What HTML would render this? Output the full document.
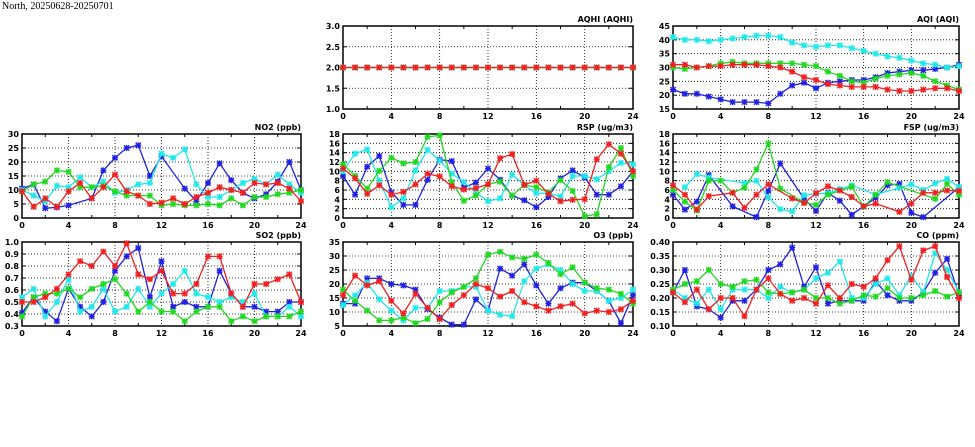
<!DOCTYPE html>
<html><head><meta charset="utf-8"><style>
html,body{margin:0;padding:0;background:#fff;width:975px;height:447px;overflow:hidden}
svg{display:block}
text{font-family:"DejaVu Sans","Liberation Sans",sans-serif;font-weight:bold;font-size:8px;fill:#000}
</style></head><body>
<svg id="chart" width="975" height="447">
<text x="2" y="9" style="font-family:'Liberation Serif',serif;font-weight:normal;font-size:10px">North, 20250628-20250701</text>
</svg>
<script>
const hours=[0,1,2,3,4,5,6,7,8,9,10,11,12,13,14,15,16,17,18,19,20,21,22,23,24];
const xTicks=[0,4,8,12,16,20,24];
const N=null;
// AQHI
const aqhiBlue=[2,2,2,2,2,2,2,2,2,2,2,2,2,2,2,2,2,2,2,2,2,2,2,2,2];
const aqhiCyan=[2,2,2,2,2,2,2,2,2,2,2,2,2,2,2,2,2,2,2,2,2,2,2,2,2];
const aqhiGreen=[2,2,2,2,2,2,2,2,2,2,2,2,2,2,2,2,2,2,2,2,2,2,2,2,2];
const aqhiRed=[2,2,2,2,2,2,2,2,2,2,2,2,2,2,2,2,2,2,2,2,2,2,2,2,2];
const aqhiTicks=["1.0","1.5","2.0","2.5","3.0"];
// AQI
const aqiBlue=[22,20.5,20.5,19.5,18.5,17.5,17.5,17.5,17,20.5,23.5,24.5,22.5,24.5,25,25.5,25.5,26.5,28,28.5,29,29,29.5,30,31];
const aqiCyan=[41,40,40,39.5,40,40.5,41,41.5,41.5,41,39,38,37.5,38,38,37,36,35,34,33.5,32.5,31.5,31,30,30.5];
const aqiGreen=[30,29.5,30,30.5,31.5,32,31.5,31.5,31.5,31.5,31.5,31,30.5,28.5,27,25,24.5,26,27,27.5,28,27,25,23.5,22];
const aqiRed=[31,31,30,30.5,30.5,31,31,31,30.5,30,28.5,26.5,25.5,24,23.5,23,23,23,22,21.5,21.5,22,22.5,22.5,21.5];
const aqiTicks=["15","20","25","30","35","40","45"];
// NO2
const no2Blue=[10.5,12,3.5,3.8,4.5,N,7,17,21.5,25,26,15,22,N,10.5,6,12.5,19.5,13.5,9,7,8.5,13,20,10];
const no2Cyan=[10,8,6,11.5,11,14.5,11,13,9,10,12,12.5,23,21.5,24.5,12,7.5,7.5,10,12.5,14,12,15.5,12,9];
const no2Green=[9.5,12,13,17,16.5,11,11,11.5,9.5,8,8,8,4.5,5,4.5,4.5,5,4.5,7,4.5,7.5,7.5,8.5,9,10];
const no2Red=[9.5,4,7,4,9.5,12.5,7,11,15.5,9.5,8,5,5.5,7,5,7.5,9,11,10,9,12.5,12,12.5,10.5,6];
const no2Ticks=["0","5","10","15","20","25","30"];
// RSP
const rspBlue=[9,5,11,13.3,5.5,2.8,2.8,8.2,12.5,12.2,6.5,7.6,10.6,8.2,4.8,3.8,2.3,4.5,8.5,10.2,8.7,5,5,6.8,10];
const rspCyan=[10,13.8,14.7,8,2.3,4.2,10.2,14.6,12.3,9.5,7.7,5.5,3.6,4.2,9.3,7,5.3,5.3,4.6,9,9,8.3,10,11.8,11.5];
const rspGreen=[11.5,9,6.3,10.1,12.9,11.7,12,17.4,17.7,7.7,3.7,4.8,7.2,7.8,4.8,7.1,6.6,5.5,8.1,5.8,0.4,0.8,10.9,15,9];
const rspRed=[10.6,8.5,5.2,7,5,5.6,7.2,9.5,8.9,6.8,6.1,6.4,7.2,12.8,13.7,7.1,8,5.2,3.6,3.9,4,12.6,15.8,13.8,10];
const rspTicks=["0","2","4","6","8","10","12","14","16","18"];
// FSP
const fspBlue=[5,1.8,3.5,9.2,N,2.5,N,0.2,5.8,11.7,N,4.1,1.5,5.4,3.7,0.7,2.5,4.3,7,7.3,1.1,0.2,N,N,6.6];
const fspCyan=[N,6.6,9.4,8.7,N,N,7.5,8,4.4,1.9,1.4,4.9,5.2,5.3,6.2,7,N,5,N,6.5,7.2,6,7.4,8.4,6.6];
const fspGreen=[6,3.5,1.6,8,8,5.4,6.5,10.4,16,6.3,N,3.3,2.8,5,N,6.7,2.4,5,7.7,N,N,N,4.1,7.3,5];
const fspRed=[7,5,1.8,4.7,N,5.4,2.2,5,7.2,N,4.2,3.2,5.3,6.8,5.9,4.5,2.5,3.1,N,1.3,3.1,5.4,5.4,5.9,5.8];
const fspTicks=["0","2","4","6","8","10","12","14","16","18"];
// SO2
const so2Blue=[0.41,0.54,0.42,0.34,0.61,0.46,0.38,0.50,0.76,0.88,0.95,0.54,0.84,0.46,0.50,0.46,0.46,0.76,0.57,0.46,0.46,0.42,0.42,0.50,0.50];
const so2Cyan=[0.54,0.61,0.38,0.50,0.69,0.42,0.46,0.61,0.42,0.46,0.61,0.46,0.57,0.65,0.76,0.57,0.54,0.50,0.54,0.50,0.57,0.38,0.38,0.46,0.38];
const so2Green=[0.38,0.54,0.57,0.57,0.61,0.54,0.61,0.65,0.69,0.57,0.42,0.50,0.42,0.42,0.34,0.42,0.46,0.46,0.34,0.38,0.34,0.38,0.38,0.38,0.42];
const so2Red=[0.50,0.50,0.54,0.61,0.73,0.84,0.80,0.92,0.80,0.99,0.73,0.69,0.76,0.57,0.57,0.65,0.88,0.88,0.57,0.46,0.65,0.65,0.69,0.73,0.50];
const so2Ticks=["0.3","0.4","0.5","0.6","0.7","0.8","0.9","1.0"];
// O3
const o3Blue=[13,13,22,22,20,19.5,18,11,8,5.5,5.5,14.5,10.5,25.5,23,27,19.5,13,18.5,20.5,20.5,17.5,14,6,16];
const o3Cyan=[12.5,16,20.5,14.5,10.5,7,11.5,11.5,17.5,17.5,19,19,10.5,9,8.5,21,25.5,27,25,20,17.5,17.5,14,15,18];
const o3Green=[18,14,10.5,7,7,8,6,7.5,13.5,17,19,22,30.5,31.5,29.5,29,30.5,27.5,23.5,26,20.5,18.5,18,16.5,13];
const o3Red=[16,23,19.5,21,14,9.5,16.5,11.5,7.5,12.5,16,20,18.5,15.5,17.5,13.5,12,10.5,12,13,9.5,10.5,10,11,14];
const o3Ticks=["5","10","15","20","25","30","35"];
// CO
const coBlue=[0.22,0.30,0.17,0.16,0.13,0.19,0.19,0.23,0.30,0.32,0.38,0.24,0.31,0.18,0.19,0.19,0.19,0.26,0.21,0.19,0.19,0.22,0.29,0.34,0.21];
const coCyan=[0.23,0.20,0.18,0.23,0.16,0.23,0.23,0.23,0.20,0.24,0.22,0.23,0.27,0.29,0.33,0.20,0.20,0.25,0.27,0.21,0.28,0.22,0.36,0.30,0.22];
const coGreen=[0.23,0.25,0.26,0.30,0.25,0.24,0.26,0.265,0.22,0.215,0.22,0.23,0.20,0.20,0.18,0.19,0.21,0.205,0.235,0.20,0.20,0.21,0.225,0.205,0.22];
const coRed=[0.22,0.185,0.23,0.16,0.20,0.20,0.135,0.23,0.27,0.215,0.19,0.20,0.18,0.245,0.20,0.25,0.24,0.27,0.335,0.385,0.265,0.37,0.385,0.275,0.20];
const coTicks=["0.10","0.15","0.20","0.25","0.30","0.35","0.40"];

const colors=["#2020e0","#20e8e8","#20d820","#f02020"];
const panels=[
 {name:"aqhi",title:"AQHI (AQHI)",x0:343,x1:633,y0:26,y1:109,ticks:aqhiTicks,series:[aqhiBlue,aqhiCyan,aqhiGreen,aqhiRed]},
 {name:"aqi",title:"AQI (AQI)",x0:673,x1:959,y0:26,y1:109,ticks:aqiTicks,series:[aqiBlue,aqiCyan,aqiGreen,aqiRed]},
 {name:"no2",title:"NO2 (ppb)",x0:22,x1:301,y0:134,y1:218,ticks:no2Ticks,series:[no2Blue,no2Cyan,no2Green,no2Red]},
 {name:"rsp",title:"RSP (ug/m3)",x0:343,x1:633,y0:134,y1:218,ticks:rspTicks,series:[rspBlue,rspCyan,rspGreen,rspRed]},
 {name:"fsp",title:"FSP (ug/m3)",x0:673,x1:959,y0:134,y1:218,ticks:fspTicks,series:[fspBlue,fspCyan,fspGreen,fspRed]},
 {name:"so2",title:"SO2 (ppb)",x0:22,x1:301,y0:242,y1:326,ticks:so2Ticks,series:[so2Blue,so2Cyan,so2Green,so2Red]},
 {name:"o3",title:"O3 (ppb)",x0:343,x1:633,y0:242,y1:326,ticks:o3Ticks,series:[o3Blue,o3Cyan,o3Green,o3Red]},
 {name:"co",title:"CO (ppm)",x0:673,x1:959,y0:242,y1:326,ticks:coTicks,series:[coBlue,coCyan,coGreen,coRed]}
];
const seriesNames=["blue","cyan","green","red"];
const NS="http://www.w3.org/2000/svg";
const svg=document.getElementById("chart");
function mk(tag,attrs,parent){const e=document.createElementNS(NS,tag);for(const k in attrs)e.setAttribute(k,attrs[k]);(parent||svg).appendChild(e);return e;}

panels.forEach(p=>{
 const g=mk("g",{});
 
 
 const ymin=parseFloat(p.ticks[0]),ymax=parseFloat(p.ticks[p.ticks.length-1]);
 const xs=h=>p.x0+(h-0)/24*(p.x1-p.x0);
 const ys=v=>p.y1-(v-ymin)/(ymax-ymin)*(p.y1-p.y0);
 p.ticks.forEach((t,i)=>{
  const y=ys(parseFloat(t));
  if(i>0&&i<p.ticks.length-1){const l=mk("line",{x1:p.x0,x2:p.x1,y1:y,y2:y,stroke:"#000","stroke-width":0.8,"stroke-dasharray":"1,2"},g);
   }
  mk("line",{x1:p.x0,x2:p.x0+4,y1:y,y2:y,stroke:"#000"},g);
  mk("line",{x1:p.x1-4,x2:p.x1,y1:y,y2:y,stroke:"#000"},g);
  const tx=mk("text",{x:p.x0-3,y:y+3,"text-anchor":"end"},g);tx.textContent=t;
  
 });
 xTicks.forEach((h,i)=>{
  const x=xs(h);
  if(i>0&&i<xTicks.length-1){const l=mk("line",{x1:x,x2:x,y1:p.y0,y2:p.y1,stroke:"#000","stroke-width":0.8,"stroke-dasharray":"1,2"},g);
   }
  const tx=mk("text",{x:x,y:p.y1+10,"text-anchor":"middle"},g);tx.textContent=h;
  
 });
 for(let h=2;h<24;h+=4){const x=xs(h);mk("line",{x1:x,x2:x,y1:p.y1,y2:p.y1-3,stroke:"#000"},g);mk("line",{x1:x,x2:x,y1:p.y0,y2:p.y0+3,stroke:"#000"},g);}
 const fr=mk("rect",{x:p.x0,y:p.y0,width:p.x1-p.x0,height:p.y1-p.y0,fill:"none",stroke:"#000","stroke-width":1.5},g);
 
 const tt=mk("text",{x:p.x1,y:p.y0-4,"text-anchor":"end"},g);tt.textContent=p.title;
 
 p.series.forEach((arr,si)=>{
  const c=colors[si];
  const sg=mk("g",{},g);
  
  
  const pts=[];arr.forEach((v,i)=>{if(v!==null)pts.push([xs(hours[i]),ys(v)]);});
  const pl=mk("polyline",{points:pts.map(q=>q[0].toFixed(1)+","+q[1].toFixed(1)).join(" "),fill:"none",stroke:c,"stroke-width":1.3},sg);
  
  pts.forEach(q=>{
   const m=mk("path",{d:`M${q[0]-3},${q[1]}h6M${q[0]},${q[1]-3}v6M${q[0]-2.6},${q[1]-2.6}l5.2,5.2M${q[0]-2.6},${q[1]+2.6}l5.2,-5.2`,stroke:c,"stroke-width":1.4,fill:"none"},sg);
   
  });
 });
});
</script>
</body></html>
